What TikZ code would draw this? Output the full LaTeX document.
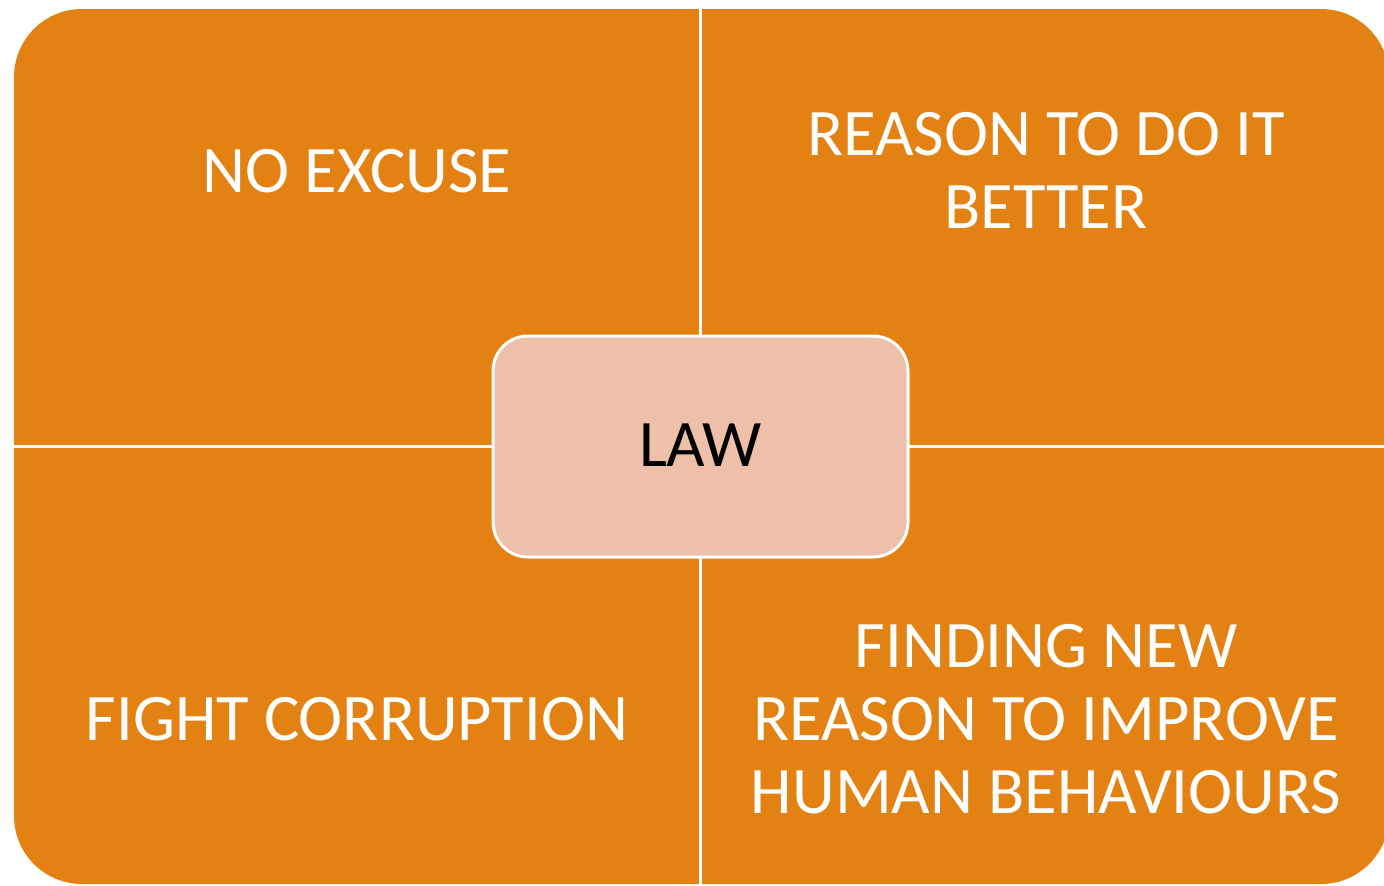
\documentclass[tikz,border=0pt]{standalone}
\usepackage{fontspec}
\setmainfont{Carlito}
\definecolor{quadorange}{RGB}{227,130,18}
\definecolor{lawpink}{RGB}{238,192,170}
\tikzset{
  quadtext/.style={text=white, align=center, font=\fontsize{66.5}{73}\selectfont, inner sep=0pt},
  lawbox/.style={draw=white, line width=3pt, fill=lawpink, rounded corners=35pt},
  gapline/.style={draw=white, line width=3pt}
}
\begin{document}
\begin{tikzpicture}[x=1pt,y=-1pt]
\useasboundingbox (0,0) rectangle (1384,886);
\clip (0,0) rectangle (1384,886);
\fill[quadorange, rounded corners=68pt] (14,9) rectangle (1389,884);
\coordinate (vt) at (700.5,0);
\coordinate (vb) at (700.5,886);
\coordinate (hl) at (0,446.5);
\coordinate (hr) at (1390,446.5);
\draw[gapline] (vt) -- (vb);
\draw[gapline] (hl) -- (hr);
\draw[lawbox] (493,336) rectangle (908,557);
\node[anchor=base, font=\fontsize{66.5}{73}\selectfont, inner sep=0pt] (law) at (700.5,466) {LAW};
\node[quadtext, anchor=base] (noexcuse) at (357,192) {NO EXCUSE};
\node[quadtext, anchor=base] (reason) at (1046,228) {REASON TO DO IT\\BETTER};
\node[quadtext, anchor=base] (fight) at (357,740) {FIGHT CORRUPTION};
\node[quadtext, anchor=base] (finding) at (1046,813) {FINDING NEW\\REASON TO IMPROVE\\HUMAN BEHAVIOURS};
\end{tikzpicture}
\end{document}
